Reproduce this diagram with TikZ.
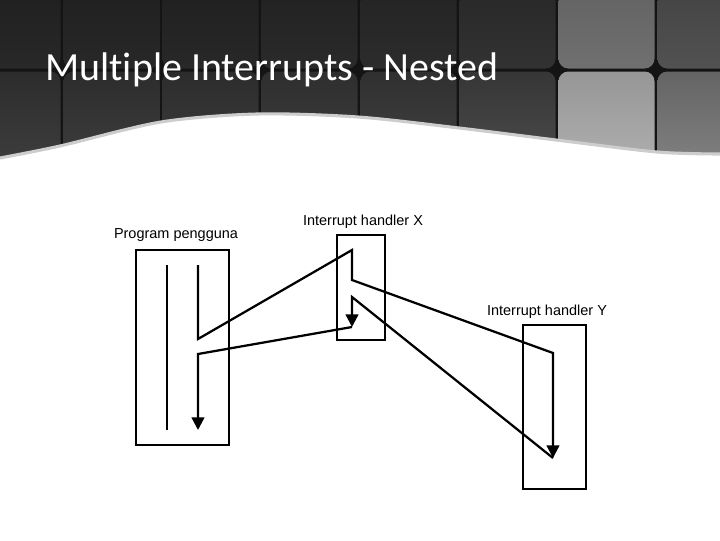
\documentclass[tikz,border=0pt]{standalone}
\usepackage{fontspec}
\setmainfont{Liberation Sans}
\newfontfamily\titlefont[Ligatures=NoCommon]{Carlito}
\usepackage{tikz}
\usetikzlibrary{arrows.meta,positioning}
\definecolor{tilegap}{RGB}{20,20,20}
\definecolor{waveedge}{RGB}{205,205,205}

\begin{document}
\begin{tikzpicture}[x=0.025cm, y=-0.025cm,
    tile/.style={rounded corners=7pt},
    wave/.style={draw=waveedge, line width=2.2pt},
    title/.style={text=white, inner sep=0pt, font=\titlefont\fontsize{28.4}{34}\selectfont},
    box/.style={draw=black, line width=1.3pt, inner sep=0pt},
    lab/.style={font=\fontsize{10.3}{12}\selectfont, inner sep=0pt},
    flow/.style={draw=black, line width=1.6pt, line join=miter},
    arr/.style={flow, -{Triangle[length=9pt,width=9pt]}}
]
    \useasboundingbox (0,0) rectangle (720,540);

    % Kepala slide
    \begin{scope}
        \clip (0,0) -- (720,0) -- (720,154) -- plot[smooth] coordinates {(657,152) (556,140) (459,128) (358,117) (257,114) (161,122) (60,146) (0,158)} -- cycle;
        \fill[tilegap] (0,0) rectangle (720,170);
        \foreach \k/\ta/\tb/\ba/\bb in {0/30/40/44/62, 1/30/40/44/62, 2/30/40/44/62, 3/32/42/46/64, 4/34/44/48/66, 5/38/50/54/76, 6/96/112/150/176, 7/64/82/100/130} {
            \pgfmathsetmacro\xa{-37+99*\k+1.5}
            \pgfmathsetmacro\xb{-37+99*(\k+1)-1.5}
            \definecolor{ta}{RGB}{\ta,\ta,\ta}
            \definecolor{tb}{RGB}{\tb,\tb,\tb}
            \definecolor{ba}{RGB}{\ba,\ba,\ba}
            \definecolor{bb}{RGB}{\bb,\bb,\bb}
            \shade[tile, top color=ta, bottom color=tb] (\xa,-30) rectangle (\xb,68.5);
            \shade[tile, top color=ba, bottom color=bb] (\xa,71.5) rectangle (\xb,170);
        }
    \end{scope}
    \draw[wave] plot[smooth] coordinates {(0,158) (60,146) (161,122) (257,114) (358,117) (459,128) (556,140) (657,152) (720,154)};
    \node[title, anchor=base west] (judul) at (45,80) {Multiple Interrupts - Nested};

    % Kotak program dan handler
    \node[box, minimum width=2.325cm, minimum height=4.875cm] (prog) at (182.5,347.5) {};
    \node[box, minimum width=1.2cm, minimum height=2.625cm] (hx) at (361,287.5) {};
    \node[box, minimum width=1.575cm, minimum height=4.1cm] (hy) at (554.5,407) {};

    \node[lab] (progl) at (176,235) {Program pengguna};
    \node[lab] (hxl) at (363,222) {Interrupt handler X};
    \node[lab] (hyl) at (547,312) {Interrupt handler Y};

    % Titik alur
    \coordinate (pa) at (167,265);
    \coordinate (pb) at (167,430);
    \coordinate (pc) at (198,265);
    \coordinate (pd) at (198,339);
    \coordinate (pe) at (198,354);
    \coordinate (pf) at (198,430);
    \coordinate (xa) at (352,250);
    \coordinate (xb) at (352,280);
    \coordinate (xc) at (352,297);
    \coordinate (xd) at (352,327);
    \coordinate (ya) at (553,353);
    \coordinate (yb) at (553,458);

    % Alur interupsi bersarang
    \draw[flow] (pa) -- (pb);
    \draw[arr] (pc) -- (pd) -- (xa) -- (xb) -- (ya) -- (yb);
    \draw[arr] (yb) -- (xc) -- (xd);
    \draw[arr] (xd) -- (pe) -- (pf);
\end{tikzpicture}
\end{document}
